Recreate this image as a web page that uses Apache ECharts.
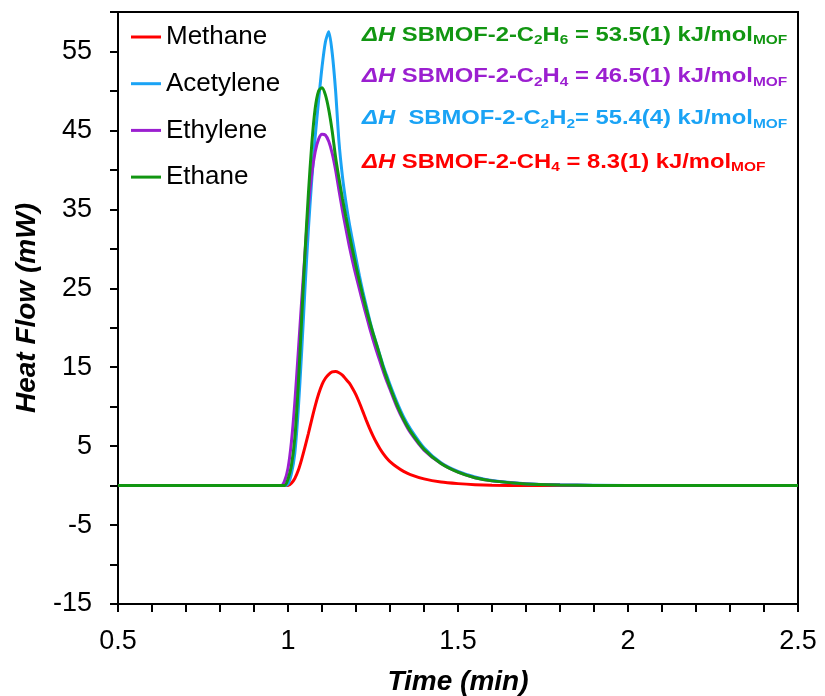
<!DOCTYPE html>
<html>
<head>
<meta charset="utf-8">
<script src="https://cdn.jsdelivr.net/npm/echarts@6/dist/echarts.min.js"></script>
<style>
  html, body { margin: 0; padding: 0; background: #fff; }
  #chart-container { width: 825px; height: 696px; }
</style>
</head>
<body>
<div id="chart-container"></div>
<script>
// time axis (min), shared by all curves
const time = [0.5, 0.98, 0.99, 1.00, 1.01, 1.02, 1.03, 1.04, 1.05, 1.06, 1.07, 1.08, 1.09,
  1.10, 1.11, 1.12, 1.13, 1.14, 1.15, 1.16, 1.17, 1.18, 1.19,
  1.20, 1.21, 1.22, 1.23, 1.24, 1.25, 1.26, 1.27, 1.28, 1.29,
  1.30, 1.32, 1.34, 1.36, 1.40, 1.45, 1.50, 1.55, 1.60, 1.70, 1.80, 2.00, 2.50];

// heat flow (mW)
const methane = [0, 0, 0, 0, 0.3, 0.9, 1.9, 3.3, 4.9, 6.6, 8.4, 10.1, 11.6,
  12.8, 13.6, 14.1, 14.4, 14.45, 14.3, 14.0, 13.5, 13.0, 12.3,
  11.5, 10.5, 9.4, 8.3, 7.25, 6.3, 5.45, 4.7, 4.05, 3.5,
  3.05, 2.35, 1.8, 1.4, 0.85, 0.45, 0.25, 0.12, 0.05, 0, 0, 0, 0];
const acetylene = [0, 0, 0, 0.2, 1.5, 4.1, 9.5, 16.8, 25.0, 32.5, 38.8, 44.2, 48.8,
  53.0, 56.2, 57.5, 54.8, 50.0, 43.5, 39.2, 36.0, 33.3, 31.0,
  28.8, 26.6, 24.6, 22.8, 21.0, 19.4, 18.0, 16.6, 15.2, 14.0,
  12.8, 10.6, 8.7, 7.2, 4.8, 2.9, 1.8, 1.1, 0.65, 0.25, 0.1, 0, 0];
const ethylene = [0, 0, 0.6, 2.2, 5.5, 10.5, 16.8, 23.3, 29.5, 35.3, 39.5, 42.3, 43.9,
  44.5, 44.4, 43.6, 42.1, 40.0, 37.4, 34.9, 32.6, 30.4, 28.4,
  26.6, 24.9, 23.2, 21.6, 20.0, 18.5, 17.1, 15.8, 14.5, 13.3,
  12.2, 10.0, 8.2, 6.7, 4.5, 2.8, 1.7, 1.0, 0.6, 0.2, 0.08, 0, 0];
const ethane = [0, 0, 0, 0.8, 2.5, 6.0, 12.5, 21.0, 29.5, 37.0, 43.3, 47.8, 50.0,
  50.4, 49.5, 47.6, 44.9, 41.6, 38.9, 36.4, 34.1, 31.9, 29.8,
  27.8, 25.9, 24.1, 22.4, 20.8, 19.3, 17.9, 16.5, 15.0, 13.7,
  12.5, 10.3, 8.4, 6.9, 4.6, 2.8, 1.7, 1.0, 0.6, 0.2, 0.08, 0, 0];

const seriesNames = ["Methane", "Acetylene", "Ethylene", "Ethane"];
const seriesColors = ["#ff0000", "#1aa3f5", "#9b1fd0", "#129612"];
const seriesValues = [methane, acetylene, ethylene, ethane];

const chart = echarts.init(document.getElementById("chart-container"));

const font = "Liberation Sans, Arial, sans-serif";

// the enthalpy labels are a little stretched sideways in the original
function dhText(color, top, text) {
    return {
        type: "text",
        x: 362,
        y: top,
        scaleX: 1.19,
        style: {
            text: text,
            fill: color,
            font: "bold 20px " + font,
            rich: {
                dh: { fontFamily: font, fontSize: 20, fontWeight: "bold", fontStyle: "italic", fill: color, lineHeight: 24 },
                n: { fontFamily: font, fontSize: 20, fontWeight: "bold", fill: color, lineHeight: 24 },
                s: { fontFamily: font, fontSize: 13, fontWeight: "bold", fill: color, lineHeight: 13, verticalAlign: "bottom" }
            }
        }
    };
}

const option = {
    animation: false,
    backgroundColor: "#fff",
    grid: {
        show: true,
        left: 118,
        right: 27,
        top: 12,
        bottom: 92,
        borderColor: "#000",
        borderWidth: 2,
        containLabel: false,
        outerBoundsMode: "none"
    },
    legend: {
        orient: "vertical",
        left: 126,
        top: 19,
        itemWidth: 30,
        itemHeight: 3,
        itemGap: 20.7,
        icon: "rect",
        textStyle: { fontFamily: font, fontSize: 26, color: "#000" },
        data: seriesNames
    },
    xAxis: {
        type: "value",
        min: 0.5,
        max: 2.5,
        interval: 0.1,
        name: "Time (min)",
        nameLocation: "middle",
        nameGap: 64,
        nameTextStyle: { fontFamily: font, fontSize: 28, fontWeight: "bold", fontStyle: "italic", color: "#000" },
        axisLine: { onZero: false, lineStyle: { color: "#000", width: 2 } },
        axisTick: { inside: false, length: 8, lineStyle: { color: "#000", width: 2 } },
        axisLabel: {
            margin: 24,
            fontFamily: font,
            fontSize: 27,
            color: "#000",
            formatter: function (v) {
                const r = Math.round(v * 2);
                if (Math.abs(v * 2 - r) > 1e-6) return "";
                return String(r / 2);
            }
        },
        splitLine: { show: false }
    },
    yAxis: {
        type: "value",
        min: -15,
        max: 60,
        interval: 5,
        name: "Heat Flow (mW)",
        nameLocation: "middle",
        nameGap: 77,
        nameTextStyle: { fontFamily: font, fontSize: 28, fontWeight: "bold", fontStyle: "italic", color: "#000" },
        axisLine: { show: true, onZero: false, lineStyle: { color: "#000", width: 2 } },
        axisTick: { show: true, inside: false, length: 8, lineStyle: { color: "#000", width: 2 } },
        axisLabel: {
            margin: 26,
            fontFamily: font,
            fontSize: 27,
            color: "#000",
            formatter: function (v) {
                const k = Math.round(v);
                return ((k + 15) % 10 === 0 && k < 60) ? String(k) : "";
            }
        },
        splitLine: { show: false }
    },
    graphic: [
        dhText("#129612", 23, "{dh|ΔH}{n| SBMOF-2-C}{s|2}{n|H}{s|6}{n| = 53.5(1) kJ/mol}{s|MOF}"),
        dhText("#9b1fd0", 64.5, "{dh|ΔH}{n| SBMOF-2-C}{s|2}{n|H}{s|4}{n| = 46.5(1) kJ/mol}{s|MOF}"),
        dhText("#1aa3f5", 106.5, "{dh|ΔH}{n|  SBMOF-2-C}{s|2}{n|H}{s|2}{n|= 55.4(4) kJ/mol}{s|MOF}"),
        dhText("#ff0000", 150, "{dh|ΔH}{n| SBMOF-2-CH}{s|4}{n| = 8.3(1) kJ/mol}{s|MOF}")
    ],
    series: seriesNames.map(function (name, i) {
        return {
            name: name,
            type: "line",
            smooth: 0.25,
            symbol: "none",
            color: seriesColors[i],
            lineStyle: { width: 3, color: seriesColors[i] },
            data: time.map(function (t, j) { return [t, seriesValues[i][j]]; })
        };
    })
};

chart.setOption(option);
</script>
</body>
</html>
